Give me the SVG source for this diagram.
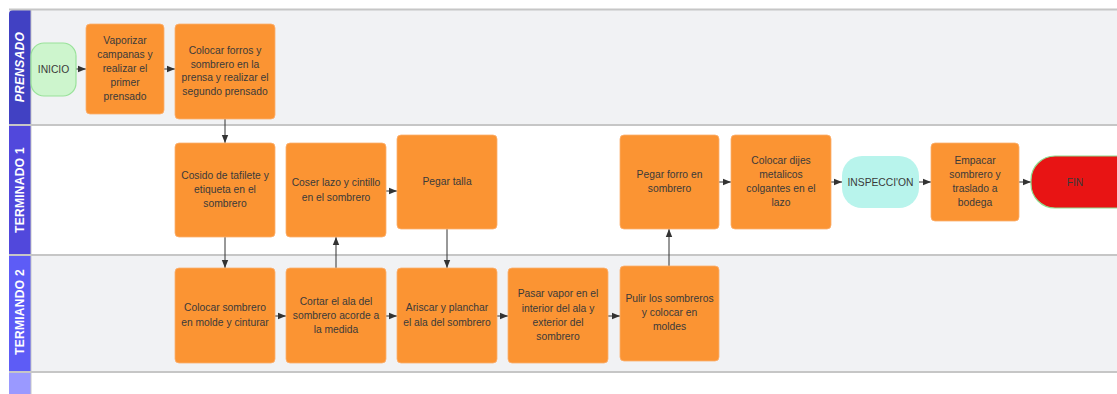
<svg xmlns="http://www.w3.org/2000/svg" width="1117" height="394" viewBox="0 0 1117 394">
<style>
.lane-bg-g{fill:#f1f2f4}
.lane-bg-w{fill:#ffffff}
.sep{stroke:#c6c6c6;stroke-width:2;fill:none}
.hdr{font-family:"Liberation Sans",Arial,sans-serif;font-size:12px;font-weight:bold;fill:#ffffff;text-anchor:middle;dominant-baseline:central;letter-spacing:0.3px}
.box{fill:#fb9433;stroke:#fbb070;stroke-width:0.8}
.t{font-family:"Liberation Sans",Arial,sans-serif;font-size:10.3px;fill:#3a3a3a;text-anchor:middle;dominant-baseline:central}
.c{stroke:#333333;stroke-width:1;fill:none;marker-end:url(#ah)}
</style>
<defs>
<marker id="ah" viewBox="0 0 10 10" refX="10" refY="5" markerWidth="8" markerHeight="8" markerUnits="userSpaceOnUse" orient="auto">
<path d="M0,1 L10,5 L0,9 z" fill="#333333"/>
</marker>
</defs>
<rect width="1117" height="394" fill="#ffffff"/>
<g id="lanes">
<rect class="lane-bg-g" x="31" y="10" width="1086" height="115"/>
<rect class="lane-bg-w" x="31" y="125" width="1086" height="130"/>
<rect class="lane-bg-g" x="31" y="255" width="1086" height="117"/>
<rect class="lane-bg-w" x="31" y="372" width="1086" height="22"/>
<path d="M9,14 Q9,10 13,10 L31,10 L31,125 L9,125 z" fill="#4141c3"/>
<rect x="9" y="125" width="22" height="130" fill="#5148dc"/>
<rect x="9" y="255" width="22" height="117" fill="#5d5cf6"/>
<rect x="9" y="372" width="22" height="22" fill="#9a99ff"/>
<line class="sep" x1="9" y1="9.5" x2="1117" y2="9.5"/>
<line class="sep" x1="9" y1="125" x2="1117" y2="125"/>
<line class="sep" x1="9" y1="255" x2="1117" y2="255"/>
<line class="sep" x1="9" y1="372" x2="1117" y2="372"/>
<line x1="31" y1="10" x2="31" y2="394" stroke="#c6c6c6" stroke-width="1"/>
<text class="hdr" transform="translate(20,67) rotate(-90)" font-style="italic">PRENSADO</text>
<text class="hdr" transform="translate(20,190) rotate(-90)">TERMINADO 1</text>
<text class="hdr" transform="translate(20,312) rotate(-90)">TERMIANDO 2</text>
</g>
<g id="connectors">
<line class="c" x1="76" y1="69" x2="86" y2="69"/>
<line class="c" x1="164" y1="69" x2="175" y2="69"/>
<line class="c" x1="225" y1="119" x2="225" y2="143"/>
<line class="c" x1="225" y1="237" x2="225" y2="268"/>
<line class="c" x1="336" y1="268" x2="336" y2="237"/>
<line class="c" x1="386" y1="191" x2="397" y2="191"/>
<line class="c" x1="447" y1="229" x2="447" y2="268"/>
<line class="c" x1="275" y1="316" x2="286" y2="316"/>
<line class="c" x1="386" y1="316" x2="397" y2="316"/>
<line class="c" x1="497" y1="316" x2="508" y2="316"/>
<line class="c" x1="608" y1="316" x2="620" y2="316"/>
<line class="c" x1="669" y1="266" x2="669" y2="229"/>
<line class="c" x1="719" y1="182" x2="731" y2="182"/>
<line class="c" x1="831" y1="182" x2="842" y2="182"/>
<line class="c" x1="919" y1="182" x2="931" y2="182"/>
<line class="c" x1="1019" y1="182" x2="1031" y2="182"/>
</g>
<g id="inicio">
<rect x="31" y="43" width="45" height="53" rx="13" ry="13" fill="#cdf5cd" stroke="#99e29a" stroke-width="1.2"/>
<text class="t" x="53.5" y="69.5">INICIO</text>
</g>
<g id="vaporizar">
<rect class="box" x="86" y="24" width="78" height="90" rx="4"/>
<text class="t" x="125" y="40">Vaporizar<tspan x="125" dy="14">campanas y</tspan><tspan x="125" dy="14">realizar el</tspan><tspan x="125" dy="14">primer</tspan><tspan x="125" dy="14">prensado</tspan></text>
</g>
<g id="colocar-forros">
<rect class="box" x="175" y="24" width="100" height="95" rx="4"/>
<text class="t" x="225" y="50">Colocar forros y<tspan x="225" dy="13.7">sombrero en la</tspan><tspan x="225" dy="13.7">prensa y realizar el</tspan><tspan x="225" dy="13.7">segundo prensado</tspan></text>
</g>
<g id="cosido">
<rect class="box" x="175" y="143" width="100" height="94" rx="4"/>
<text class="t" x="225" y="175">Cosido de tafilete y<tspan x="225" dy="14">etiqueta en el</tspan><tspan x="225" dy="14">sombrero</tspan></text>
</g>
<g id="coser-lazo">
<rect class="box" x="286" y="143" width="100" height="94" rx="4"/>
<text class="t" x="336" y="182">Coser lazo y cintillo<tspan x="336" dy="14.5">en el sombrero</tspan></text>
</g>
<g id="pegar-talla">
<rect class="box" x="397" y="135" width="100" height="94" rx="4"/>
<text class="t" x="447" y="181">Pegar talla</text>
</g>
<g id="pegar-forro">
<rect class="box" x="620" y="135" width="99" height="94" rx="4"/>
<text class="t" x="669.5" y="174">Pegar forro en<tspan x="669.5" dy="14">sombrero</tspan></text>
</g>
<g id="colocar-dijes">
<rect class="box" x="731" y="135" width="100" height="94" rx="4"/>
<text class="t" x="781" y="160">Colocar dijes<tspan x="781" dy="14">metalicos</tspan><tspan x="781" dy="14">colgantes en el</tspan><tspan x="781" dy="14">lazo</tspan></text>
</g>
<g id="inspeccion">
<rect x="842" y="156" width="77" height="52" rx="20" ry="20" fill="#b8f4ec"/>
<text class="t" x="880.5" y="182">INSPECCI'ON</text>
</g>
<g id="empacar">
<rect class="box" x="931" y="143" width="88" height="78" rx="4"/>
<text class="t" x="975" y="160">Empacar<tspan x="975" dy="14">sombrero y</tspan><tspan x="975" dy="14">traslado a</tspan><tspan x="975" dy="14">bodega</tspan></text>
</g>
<g id="fin">
<rect x="1031" y="156" width="110" height="52" rx="24" ry="24" fill="#e81414" stroke="#8fdc8f" stroke-width="1.2"/>
<text class="t" x="1075" y="182">FIN</text>
</g>
<g id="colocar-sombrero">
<rect class="box" x="175" y="268" width="100" height="95" rx="4"/>
<text class="t" x="225" y="307.5">Colocar sombrero<tspan x="225" dy="14.5">en molde y cinturar</tspan></text>
</g>
<g id="cortar">
<rect class="box" x="286" y="268" width="100" height="95" rx="4"/>
<text class="t" x="336" y="301">Cortar el ala del<tspan x="336" dy="14">sombrero acorde a</tspan><tspan x="336" dy="14">la medida</tspan></text>
</g>
<g id="ariscar">
<rect class="box" x="397" y="268" width="100" height="95" rx="4"/>
<text class="t" x="447" y="307.5">Ariscar y planchar<tspan x="447" dy="14">el ala del sombrero</tspan></text>
</g>
<g id="pasar-vapor">
<rect class="box" x="508" y="268" width="100" height="95" rx="4"/>
<text class="t" x="558" y="293.5">Pasar vapor en el<tspan x="558" dy="14">interior del ala y</tspan><tspan x="558" dy="14">exterior del</tspan><tspan x="558" dy="14">sombrero</tspan></text>
</g>
<g id="pulir">
<rect class="box" x="620" y="266" width="99" height="95" rx="4"/>
<text class="t" x="669.5" y="298">Pulir los sombreros<tspan x="669.5" dy="14">y colocar en</tspan><tspan x="669.5" dy="14">moldes</tspan></text>
</g>
</svg>
